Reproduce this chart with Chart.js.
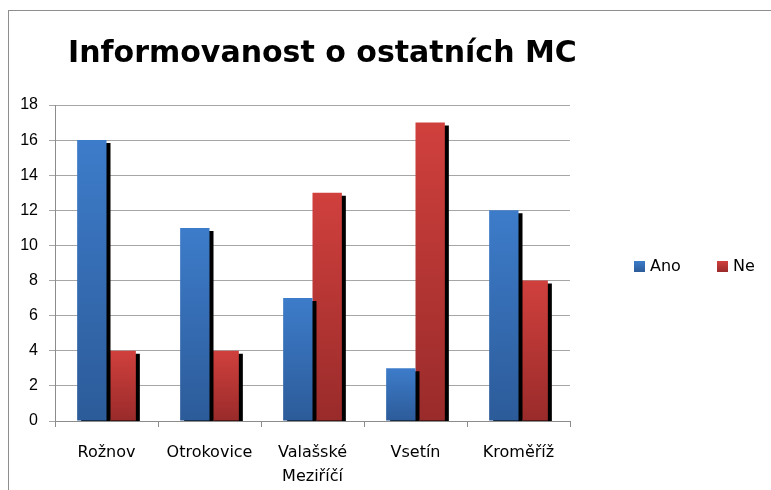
<!DOCTYPE html>
<html>
<head>
<meta charset="utf-8">
<script src="https://cdn.jsdelivr.net/npm/chart.js@4/dist/chart.umd.min.js"></script>
<style>
  html, body { margin: 0; padding: 0; background: #fff; }
  #wrap { position: relative; width: 771px; height: 490px; overflow: hidden; }
  #frame { position: absolute; left: 8px; top: 10px; width: 900px; height: 700px; border: 1px solid #8e8e8e; }
  canvas { position: absolute; left: 0; top: 0; }
</style>
</head>
<body>
<div id="wrap">
  <div id="frame"></div>
  <canvas id="c" width="771" height="490"></canvas>
</div>
<script>
const chartTitle = 'Informovanost o ostatních MC';
const categories = ['Rožnov', 'Otrokovice', ['Valašské', 'Meziříčí'], 'Vsetín', 'Kroměříž'];
const seriesNames = ['Ano', 'Ne'];
const ano = [16, 11, 7, 3, 12];
const ne = [4, 4, 13, 17, 8];
const yMin = 0, yMax = 18, yStep = 2;

const blue = ['#3d7cca', '#2c5b99'];
const red = ['#d0403d', '#992b2a'];

// per-bar vertical gradient, light at the top, dark at the base
function barFill(colors) {
  return (ctx) => {
    const chart = ctx.chart;
    if (!chart.chartArea || ctx.type !== 'data') return colors[0];
    const y = chart.scales.y;
    const g = chart.ctx.createLinearGradient(0, y.getPixelForValue(ctx.raw), 0, y.getPixelForValue(0));
    g.addColorStop(0, colors[0]);
    g.addColorStop(1, colors[1]);
    return g;
  };
}

const barShadow = {
  id: 'barShadow',
  beforeDatasetDraw(chart) {
    const c = chart.ctx;
    c.save();
    c.shadowColor = '#000';
    c.shadowOffsetX = 4;
    c.shadowOffsetY = 3;
    c.shadowBlur = 0;
  },
  afterDatasetDraw(chart) {
    chart.ctx.restore();
  }
};

const titleText = {
  id: 'titleText',
  afterDraw(chart) {
    const c = chart.ctx;
    c.save();
    c.font = 'bold 30px "DejaVu Sans"';
    c.fillStyle = '#000';
    c.textBaseline = 'alphabetic';
    c.fillText(chartTitle, 68, 62);
    c.restore();
  }
};

// legend sits to the right of the plot, items side by side
const sideLegend = {
  id: 'sideLegend',
  afterDraw(chart) {
    const c = chart.ctx;
    const cy = 267;
    let x = 634;
    c.save();
    c.font = '16px "DejaVu Sans"';
    c.textBaseline = 'middle';
    chart.data.datasets.forEach((ds) => {
      const g = c.createLinearGradient(0, cy - 6, 0, cy + 5);
      g.addColorStop(0, ds.colors[0]);
      g.addColorStop(1, ds.colors[1]);
      c.fillStyle = g;
      c.fillRect(x, cy - 6, 11, 11);
      c.fillStyle = '#000';
      c.fillText(ds.label, x + 16, cy);
      x += 83;
    });
    c.restore();
  }
};

new Chart(document.getElementById('c'), {
  type: 'bar',
  data: {
    labels: categories,
    datasets: [
      { label: seriesNames[0], data: ano, colors: blue, backgroundColor: barFill(blue) },
      { label: seriesNames[1], data: ne, colors: red, backgroundColor: barFill(red) }
    ]
  },
  options: {
    responsive: false,
    animation: false,
    devicePixelRatio: 1,
    layout: { padding: { top: 105, right: 201, left: 0, bottom: 0 } },
    datasets: {
      bar: { barPercentage: 1, categoryPercentage: 0.57, clip: 0, inflateAmount: 0, borderWidth: 0 }
    },
    plugins: {
      legend: { display: false },
      title: { display: false },
      tooltip: { enabled: false }
    },
    scales: {
      x: {
        grid: { offset: true, drawOnChartArea: false, tickLength: 6, color: '#8c8c8c' },
        border: { color: '#8c8c8c' },
        ticks: {
          color: '#000',
          padding: 13,
          maxRotation: 0,
          font: { family: '"DejaVu Sans"', size: 16, lineHeight: 1.55 }
        },
        afterFit: (s) => { s.height = 69; }
      },
      y: {
        min: yMin,
        max: yMax,
        grid: { color: '#a6a6a6', tickLength: 6 },
        border: { color: '#8c8c8c' },
        ticks: {
          stepSize: yStep,
          color: '#000',
          padding: 11,
          font: { family: '"Liberation Sans"', size: 16 }
        },
        afterFit: (s) => { s.width = 55; }
      }
    }
  },
  plugins: [barShadow, titleText, sideLegend]
});
</script>
</body>
</html>
